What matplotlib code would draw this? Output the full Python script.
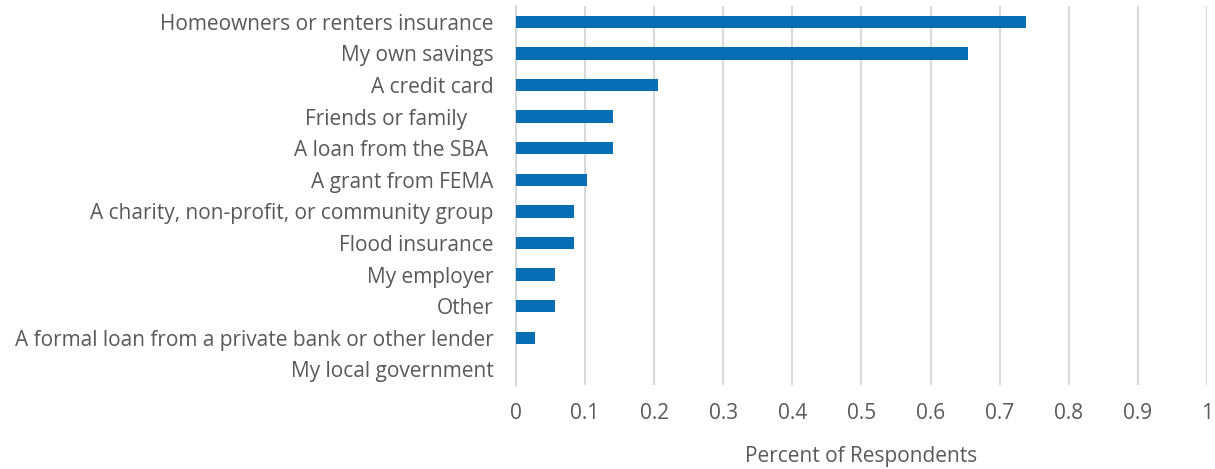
import matplotlib
matplotlib.use("Agg")
import matplotlib.pyplot as plt
import numpy as np

sources = [
    "Homeowners or renters insurance",
    "My own savings",
    "A credit card",
    "Friends or family     ",
    "A loan from the SBA ",
    "A grant from FEMA",
    "A charity, non-profit, or community group",
    "Flood insurance",
    "My employer",
    "Other",
    "A formal loan from a private bank or other lender",
    "My local government",
]
share = [0.738, 0.654, 0.206, 0.140, 0.140, 0.103, 0.084, 0.084, 0.056, 0.056, 0.028, 0.0]
xticks = [0, 0.1, 0.2, 0.3, 0.4, 0.5, 0.6, 0.7, 0.8, 0.9, 1]

plt.rcParams['font.family'] = ['Open Sans', 'DejaVu Sans']
text_color = '#595959'
grid_color = '#d9d9d9'

fig = plt.figure(figsize=(12.15, 4.69), dpi=100)
ax = fig.add_axes([0.4247, 0.179, 0.5687, 0.808])

y = np.arange(len(sources))
ax.barh(y, share, height=0.39, color='#066eb5', zorder=3)
ax.set_ylim(len(sources) - 0.5, -0.5)
ax.set_xlim(0, 1)

ax.set_yticks(y)
ax.set_yticklabels(sources, fontsize=15, color=text_color)
ax.set_xticks(xticks)
ax.set_xticklabels([f"{t:g}" for t in xticks], fontsize=15, color=text_color)
ax.tick_params(axis='both', length=0)
ax.tick_params(axis='y', pad=16)
ax.tick_params(axis='x', pad=13)
ax.set_xlabel("Percent of Respondents", fontsize=15, color=text_color, labelpad=16)

ax.grid(axis='x', color=grid_color, linewidth=1.5, zorder=0)
for s in ['top', 'right', 'bottom']:
    ax.spines[s].set_visible(False)
ax.spines['left'].set_color(grid_color)
ax.spines['left'].set_linewidth(1.5)

fig.savefig("out.png", dpi=100)
